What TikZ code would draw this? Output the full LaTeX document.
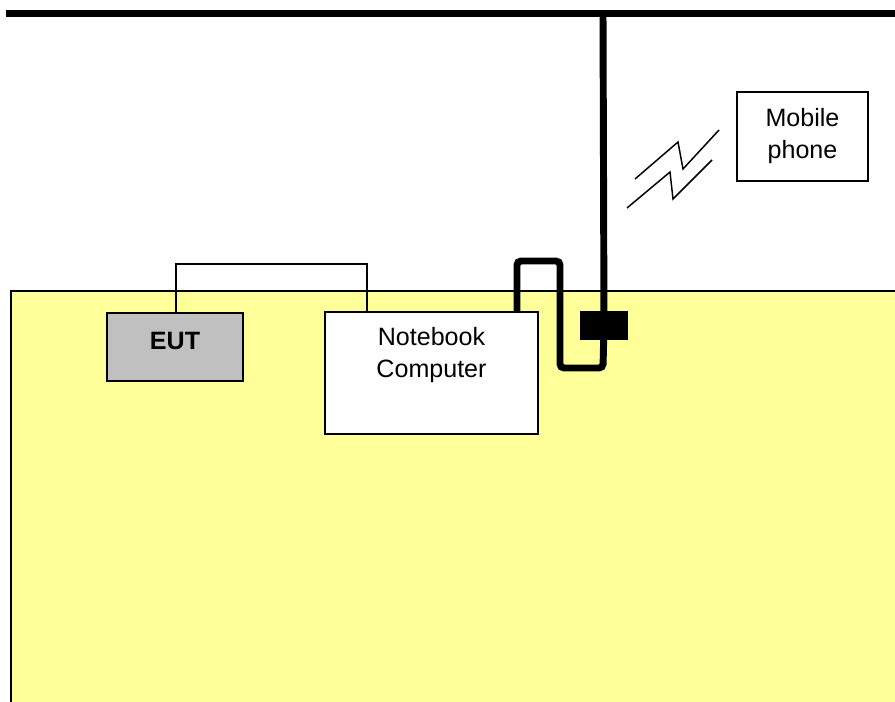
\documentclass[tikz,border=0pt]{standalone}
\usepackage{fontspec}
\setmainfont{Liberation Sans}
\definecolor{padyellow}{HTML}{FFFF99}
\definecolor{eutgray}{HTML}{C0C0C0}

\begin{document}
\begin{tikzpicture}[x=0.75pt, y=-0.75pt,
    box/.style={draw=black, line width=1.2pt, fill=white, inner sep=0pt},
    cable/.style={line width=5.2pt, rounded corners=3pt},
    wire/.style={line width=1.1pt},
    txt/.style={font=\fontsize{18.8}{24}\selectfont, align=center}]
    \useasboundingbox (0,0) rectangle (895,702);
    \fill[padyellow] (11,291) rectangle (895,702);
    \draw[line width=1.1pt] (11,702) -- (11,291) -- (895,291);
    \coordinate (barleft) at (6,13.5);
    \coordinate (barright) at (895,13.5);
    \coordinate (poletop) at (603,13.5);
    \draw[line width=5.2pt] (barleft) -- (barright);
    \node[box, fill=eutgray, minimum width=102pt, minimum height=51pt] (eut) at (175,347) {};
    \node[txt, font=\fontsize{18.8}{24}\selectfont\bfseries] (euttext) at (175,341) {EUT};
    \node[box, minimum width=159.75pt, minimum height=91.5pt] (notebook) at (431.5,373) {};
    \node[txt] (nbtext) at (431.5,355) {Notebook\\Computer};
    \node[box, minimum width=98.25pt, minimum height=66.75pt, txt] (phone) at (802.5,136.5) {Mobile\\phone};
    \node[fill=black, inner sep=0pt, minimum width=36pt, minimum height=21.75pt] (jack) at (604,325.5) {};
    \draw[wire] (eut.north -| 176,0) -- (176,264) -- (367,264) -- (notebook.north -| 367,0);
    \draw[line width=5.2pt] (poletop) -- (jack.center);
    \draw[cable] (notebook.north -| 517,0) -- (517,261) -- (560,261) -- (560,368) -- (603,368) -- (jack.center);
    \draw[wire] (635,179) -- (678,142) -- (683,169) -- (719,130);
    \draw[wire] (627,208) -- (670,172) -- (673,199) -- (712,160);
\end{tikzpicture}
\end{document}
